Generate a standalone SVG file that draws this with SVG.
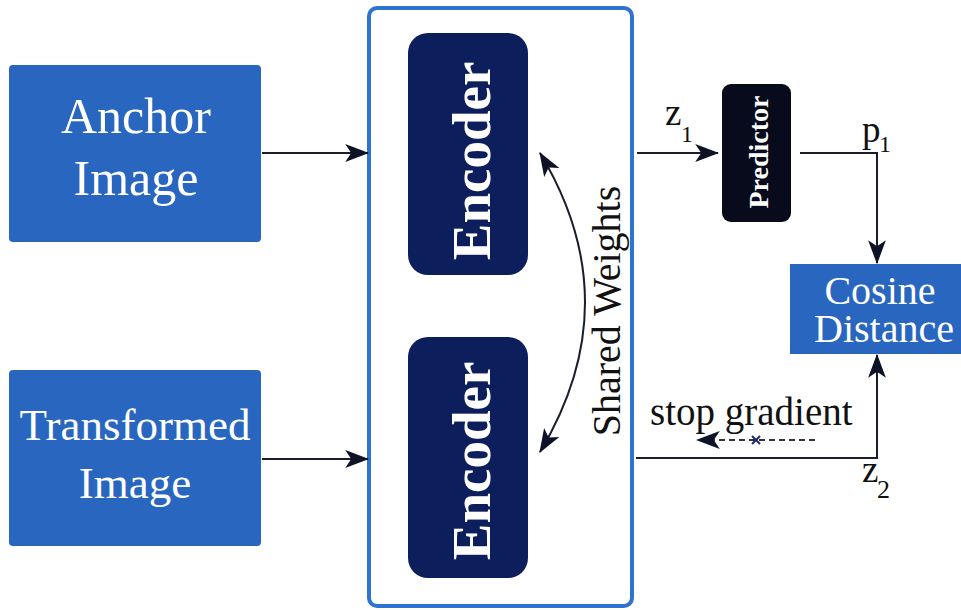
<svg xmlns="http://www.w3.org/2000/svg" width="961" height="610" viewBox="0 0 961 610">
<defs>
<marker id="ahl" viewBox="0 0 10 10" refX="9.5" refY="5" markerWidth="24" markerHeight="24" markerUnits="userSpaceOnUse" orient="auto-start-reverse">
<path d="M0,1.3 L10,5 L0,8.7 L2.5,5 z" fill="#0d1226"/>
</marker>
<style>
.blue{fill:#2866c0}
.enc{fill:#0c1f5c}
.wt{fill:#fff;text-anchor:middle}
.bt{fill:#111}
</style>
</defs>
<rect width="961" height="610" fill="#fff"/>
<g id="anchor">
<rect class="blue" x="9" y="65" width="252" height="177" rx="4"/>
<text class="wt" font-family="Liberation Serif" x="136" y="133" font-size="50">Anchor</text>
<text class="wt" font-family="Liberation Serif" x="136" y="195" font-size="50">Image</text>
</g>
<g id="transformed">
<rect class="blue" x="9" y="370" width="252" height="176" rx="4"/>
<text class="wt" font-family="Liberation Serif" x="135" y="440" font-size="45">Transformed</text>
<text class="wt" font-family="Liberation Serif" x="135" y="498" font-size="45">Image</text>
</g>
<g id="container">
<rect x="369" y="8" width="263" height="598" rx="8" fill="none" stroke="#2d73d0" stroke-width="4"/>
</g>
<g id="encoder1">
<rect class="enc" x="408" y="33" width="120" height="242" rx="20"/>
<text class="wt" font-family="Liberation Serif" font-size="55" font-weight="bold" transform="translate(490,161) rotate(-90)">Encoder</text>
</g>
<g id="encoder2">
<rect class="enc" x="408" y="337" width="120" height="241" rx="20"/>
<text class="wt" font-family="Liberation Serif" font-size="55" font-weight="bold" transform="translate(490,461) rotate(-90)">Encoder</text>
</g>
<g id="shared">
<text class="bt" font-family="Liberation Serif" font-size="40" text-anchor="middle" transform="translate(620,311) rotate(-90)">Shared Weights</text>
</g>
<g id="predictor">
<rect x="722" y="84" width="69" height="138" rx="9" fill="#070b1b"/>
<text class="wt" font-family="Liberation Serif" font-size="28" font-weight="bold" transform="translate(768,152) rotate(-90)">Predictor</text>
</g>
<g id="cosine">
<rect class="blue" x="790" y="264" width="171" height="90"/>
<text class="wt" font-family="Liberation Serif" x="880" y="304" font-size="40">Cosine</text>
<text class="wt" font-family="Liberation Serif" x="884" y="342" font-size="40">Distance</text>
</g>
<g id="connectors" stroke="#1a1d2b" stroke-width="2" fill="none">
<line x1="262" y1="153" x2="368" y2="153" marker-end="url(#ahl)"/>
<line x1="262" y1="459" x2="368" y2="459" marker-end="url(#ahl)"/>
<line x1="637" y1="153" x2="718" y2="153" marker-end="url(#ahl)"/>
<polyline points="800,153 877,153 877,263" marker-end="url(#ahl)"/>
<polyline points="636,458 877,458 877,355" marker-end="url(#ahl)"/>
<path d="M540,153 Q630,302 540,452" marker-start="url(#ahl)" marker-end="url(#ahl)"/>
<line x1="815" y1="440" x2="697" y2="440" stroke="#333" stroke-dasharray="6,4" marker-end="url(#ahl)"/>
<path d="M752,436 L760,444 M760,436 L752,444" stroke="#1a2a6b"/>
</g>
<g id="labels">
<text class="bt" font-family="Liberation Serif" x="665" y="125" font-size="37">z</text>
<text class="bt" font-family="Liberation Serif" x="681" y="142" font-size="24">1</text>
<text class="bt" font-family="Liberation Serif" x="862" y="142" font-size="37">p</text>
<text class="bt" font-family="Liberation Serif" x="879" y="152" font-size="24">1</text>
<text class="bt" font-family="Liberation Serif" x="650" y="425" font-size="39">stop gradient</text>
<text class="bt" font-family="Liberation Serif" x="862" y="482" font-size="37">z</text>
<text class="bt" font-family="Liberation Serif" x="877" y="498" font-size="26">2</text>
</g>
</svg>
